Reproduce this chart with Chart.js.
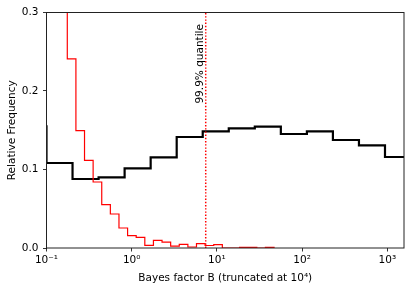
<!DOCTYPE html>
<html>
<head>
<meta charset="utf-8">
<script src="https://cdn.jsdelivr.net/npm/chart.js@4/dist/chart.umd.min.js"></script>
<style>
  html, body { margin: 0; padding: 0; background: #fff; }
  #wrap { width: 416px; height: 293px; }
</style>
</head>
<body>
<div id="wrap"><canvas id="bfChart" width="416" height="293"></canvas></div>
<script>
// Black histogram: Bayes factor B, bin edges and relative frequencies
const blackEdges = [0.0495, 0.1, 0.2021, 0.4087, 0.8257, 1.669, 3.373, 6.817, 13.78, 27.85, 56.29, 113.8, 229.9, 464.7, 939.3, 1898];
const blackHeights = [0.155, 0.1083, 0.0879, 0.0899, 0.1014, 0.1154, 0.1414, 0.1485, 0.1524, 0.1545, 0.1452, 0.1485, 0.1376, 0.1307, 0.1159];

// Red histogram (null distribution)
const redEdges = [0.0872, 0.1101, 0.1390, 0.1754, 0.2214, 0.2794, 0.3526, 0.4450, 0.5617, 0.7089, 0.8947,
  1.129, 1.425, 1.799, 2.270, 2.865, 3.616, 4.564, 5.760, 7.270, 9.178, 11.58, 14.62, 18.45, 23.29, 29.39, 37.10, 46.83];
const redHeights = [0.62, 0.52, 0.39, 0.2408, 0.1494, 0.1116, 0.0841, 0.0552, 0.0433, 0.0255, 0.0157,
  0.0135, 0.0033, 0.0097, 0.0076, 0.0025, 0.0046, 0.0013, 0.0057, 0.0032, 0.0044, 0, 0, 0.0008, 0.0008, 0, 0.0008];

const quantile = 7.39;
const quantileLabel = '99.9% quantile';
const quantileLabelY = 0.184;

const xTicks = [0.1, 1, 10, 100, 1000];
const xTickLabels = ['10\u207B\u00B9', '10\u2070', '10\u00B9', '10\u00B2', '10\u00B3'];
const yTicks = [0, 0.1, 0.2, 0.3];

const FONT = 'DejaVu Sans';

// outline of a step histogram, stepped 'before' keeps each bin value until the next edge
function stepPoints(edges, heights) {
  const pts = [{ x: edges[0], y: 0 }];
  heights.forEach((h, i) => pts.push({ x: edges[i], y: h }));
  pts.push({ x: edges[edges.length - 1], y: 0 });
  return pts;
}

// frame (spines) drawn on top of the data, like matplotlib
const framePlugin = {
  id: 'frame',
  afterDatasetsDraw(chart) {
    const { ctx, chartArea: a } = chart;
    ctx.save();
    ctx.strokeStyle = '#222';
    ctx.lineWidth = 1;
    ctx.strokeRect(a.left, a.top, a.right - a.left, a.bottom - a.top);
    ctx.restore();
  }
};

const labelPlugin = {
  id: 'quantileLabel',
  afterDatasetsDraw(chart) {
    const { ctx } = chart;
    const x = chart.scales.x.getPixelForValue(quantile) - 2.7;
    const y = chart.scales.y.getPixelForValue(quantileLabelY);
    ctx.save();
    ctx.translate(x, y);
    ctx.rotate(-Math.PI / 2);
    ctx.font = '10.5px "' + FONT + '"';
    ctx.fillStyle = '#000';
    ctx.textAlign = 'left';
    ctx.textBaseline = 'alphabetic';
    ctx.fillText(quantileLabel, 0, 0);
    ctx.restore();
  }
};

const ctx = document.getElementById('bfChart').getContext('2d');
const bfChart = new Chart(ctx, {
  type: 'line',
  data: {
    datasets: [{
      data: [{ x: quantile, y: 0 }, { x: quantile, y: 0.3 }],
      borderColor: '#ff0000',
      borderWidth: 1.5,
      borderDash: [1.4, 1.8],
      pointRadius: 0,
      order: 0
    }, {
      data: stepPoints(redEdges, redHeights),
      borderColor: '#ff0000',
      borderWidth: 1.2,
      stepped: 'before',
      pointRadius: 0,
      order: 1
    }, {
      data: stepPoints(blackEdges, blackHeights),
      borderColor: '#000000',
      borderWidth: 2.2,
      stepped: 'before',
      pointRadius: 0,
      order: 2
    }]
  },
  options: {
    responsive: false,
    animation: false,
    devicePixelRatio: 1,
    layout: { padding: { top: 12.5, right: 12, left: 0, bottom: 0 } },
    plugins: { legend: { display: false }, tooltip: { enabled: false } },
    scales: {
      x: {
        type: 'logarithmic',
        min: 0.1,
        max: 1570,
        border: { display: false },
        grid: { drawOnChartArea: false, drawTicks: true, tickLength: 3.5, tickColor: '#000', tickWidth: 0.8 },
        afterBuildTicks: (scale) => { scale.ticks = xTicks.map(v => ({ value: v })); },
        afterFit: (scale) => { scale.height = 45; },
        ticks: {
          autoSkip: false,
          maxRotation: 0,
          padding: 2,
          color: '#000',
          font: { family: FONT, size: 10.5 },
          callback: (v) => xTickLabels[xTicks.indexOf(v)]
        },
        title: {
          display: true,
          text: 'Bayes factor B (truncated at 10\u2074)',
          color: '#000',
          font: { family: FONT, size: 10.5 },
          padding: { top: 0, bottom: 8 }
        }
      },
      y: {
        min: 0,
        max: 0.3,
        border: { display: false },
        grid: { drawOnChartArea: false, drawTicks: true, tickLength: 3.5, tickColor: '#000', tickWidth: 0.8 },
        afterBuildTicks: (scale) => { scale.ticks = yTicks.map(v => ({ value: v })); },
        afterFit: (scale) => { scale.width = 46.5; },
        ticks: {
          padding: 4.5,
          color: '#000',
          font: { family: FONT, size: 10.5 },
          callback: (v) => v.toFixed(1)
        },
        title: {
          display: true,
          text: 'Relative Frequency',
          color: '#000',
          font: { family: FONT, size: 10.5 },
          padding: { top: 6, bottom: 0 }
        }
      }
    }
  },
  plugins: [framePlugin, labelPlugin]
});
</script>
</body>
</html>
